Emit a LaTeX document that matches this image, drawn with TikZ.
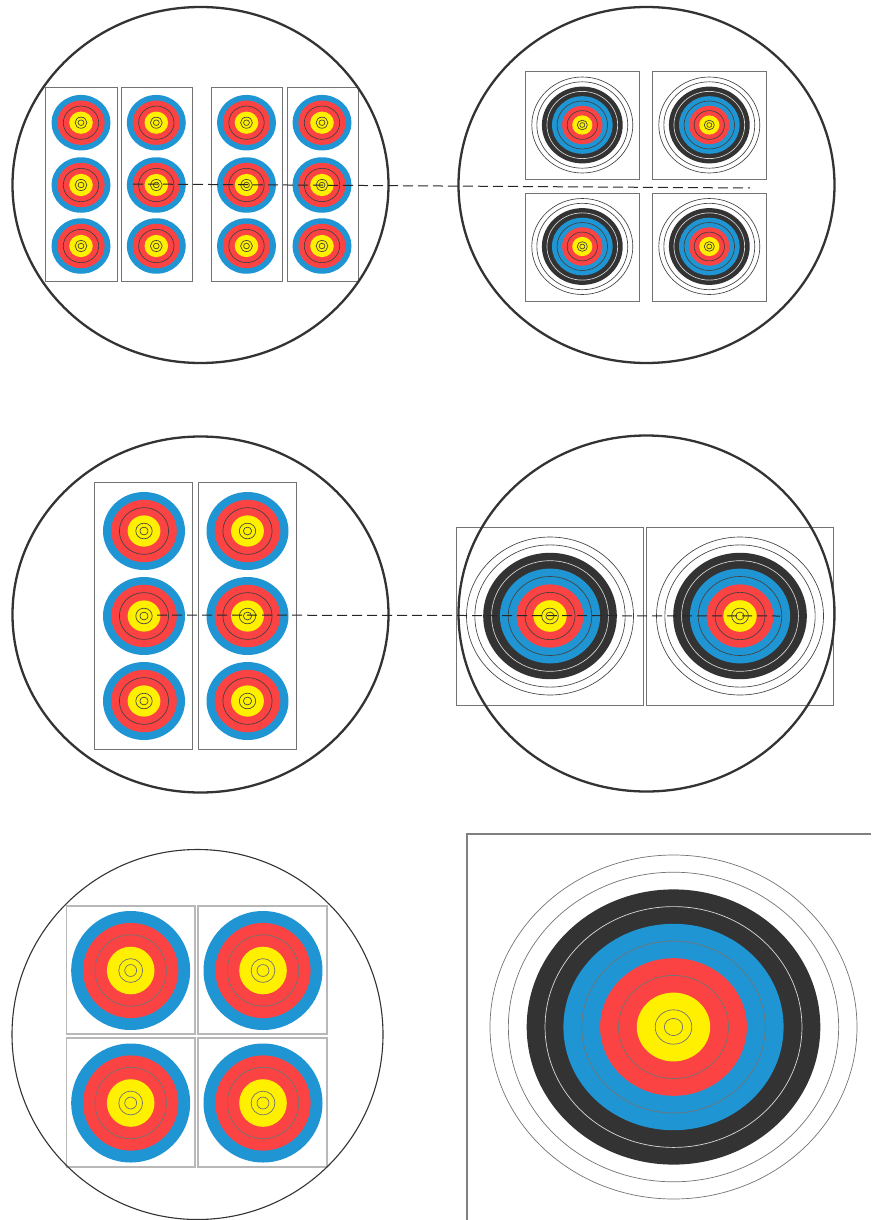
\documentclass[tikz,border=0pt]{standalone}
\usepackage{xcolor}
\usepackage{tikz}

\definecolor{faceblue}{HTML}{1F96D3}
\definecolor{facered}{HTML}{FB4343}
\definecolor{faceyellow}{HTML}{FFF000}
\definecolor{faceblack}{HTML}{333333}

% x, y, unit in x, unit in y, style of the scoring lines
\newcommand{\spotface}[5]{%
  \begin{scope}[shift={(#1,#2)}, x=#3pt, y=#4pt]
    \fill[faceblue] (0,0) circle [x radius=5, y radius=5];
    \fill[facered] (0,0) circle [x radius=4, y radius=4];
    \draw[#5] (0,0) circle [x radius=3, y radius=3];
    \fill[faceyellow] (0,0) circle [x radius=2, y radius=2];
    \draw[#5] (0,0) circle [x radius=1, y radius=1];
    \draw[#5] (0,0) circle [x radius=.5, y radius=.5];
  \end{scope}}
\newcommand{\fullface}[5]{%
  \begin{scope}[shift={(#1,#2)}, x=#3pt, y=#4pt]
    \draw[#5] (0,0) circle [x radius=10, y radius=10];
    \draw[#5] (0,0) circle [x radius=9, y radius=9];
    \fill[faceblack] (0,0) circle [x radius=8, y radius=8];
    \draw[#5, draw=white!85!black] (0,0) circle [x radius=7, y radius=7];
    \fill[faceblue] (0,0) circle [x radius=6, y radius=6];
    \draw[#5] (0,0) circle [x radius=5, y radius=5];
    \fill[facered] (0,0) circle [x radius=4, y radius=4];
    \draw[#5] (0,0) circle [x radius=3, y radius=3];
    \fill[faceyellow] (0,0) circle [x radius=2, y radius=2];
    \draw[#5] (0,0) circle [x radius=1, y radius=1];
    \draw[#5] (0,0) circle [x radius=.5, y radius=.5];
  \end{scope}}

\begin{document}
\begin{tikzpicture}[x=1pt, y=-1pt,
  paper/.style={draw=black!55, line width=.9pt},
  paperlight/.style={draw=black!28, line width=1.1pt},
  paperbig/.style={draw=black!50, line width=2.7pt},
  lens/.style={draw=black!80, line width=2.3pt},
  lensthin/.style={draw=black!80, line width=1.1pt},
  sight/.style={draw=black!85, line width=1pt, dash pattern=on 10pt off 5pt},
  ringdark/.style={draw=black!75, line width=.65pt},
  ringthin/.style={draw=black!55, line width=.7pt}]
  \useasboundingbox (0,0) rectangle (871,1220);

  % first row: spots on the left, small faces on the right
  \foreach \xa/\xb in {45/117, 121/192, 211/282, 287/358}
    \draw[paper] (\xa,87) rectangle (\xb,281);
  \foreach \xc in {81, 156.3, 246.5, 322}
    \foreach \yc in {122.7, 185, 246}
      \spotface{\xc}{\yc}{5.9}{5.55}{ringdark};
  \foreach \xa/\xb in {525/639, 652/766}
    \foreach \ya/\yb in {71/179, 193/301}
      \draw[paper] (\xa,\ya) rectangle (\xb,\yb);
  \foreach \xc in {582.3, 709.3}
    \foreach \yc in {125, 246.5}
      \fullface{\xc}{\yc}{5.05}{4.8}{ringdark};
  \draw[lens] (200.5,185) circle [x radius=188, y radius=178];
  \draw[lens] (646.5,185) circle [x radius=188, y radius=178];
  \draw[sight] (133,184) -- (750,188);

  % second row
  \foreach \xa/\xb in {94/192, 198/296}
    \draw[paper] (\xa,482) rectangle (\xb,749);
  \foreach \xc in {144, 247.5}
    \foreach \yc in {531, 616, 701}
      \spotface{\xc}{\yc}{8.2}{7.8}{ringdark};
  \foreach \xa/\xb in {456/643.7, 646/833}
    \draw[paper] (\xa,527.3) rectangle (\xb,705);
  \foreach \xc in {550, 740}
    \fullface{\xc}{616}{8.35}{7.9}{ringdark};
  \draw[lens] (200.5,614.5) circle [x radius=188, y radius=178];
  \draw[lens] (646.5,613.5) circle [x radius=188, y radius=178];
  \draw[sight] (157,615) -- (780,616);

  % third row: four spots, one large face cut by the page
  \foreach \xa/\xb in {66.7/195, 198/327}
    \foreach \ya/\yb in {906/1034, 1038/1167}
      \draw[paperlight] (\xa,\ya) rectangle (\xb,\yb);
  \foreach \xc in {130.7, 263}
    \foreach \yc in {970.5, 1103}
      \spotface{\xc}{\yc}{11.9}{11.9}{ringthin};
  \draw[lensthin] (197.5,1034.5) circle [x radius=185.5, y radius=185];
  \draw[paperbig] (871,834) -- (467,834) -- (467,1220);
  \fullface{673.5}{1027}{18.35}{17.2}{ringthin};
\end{tikzpicture}
\end{document}
